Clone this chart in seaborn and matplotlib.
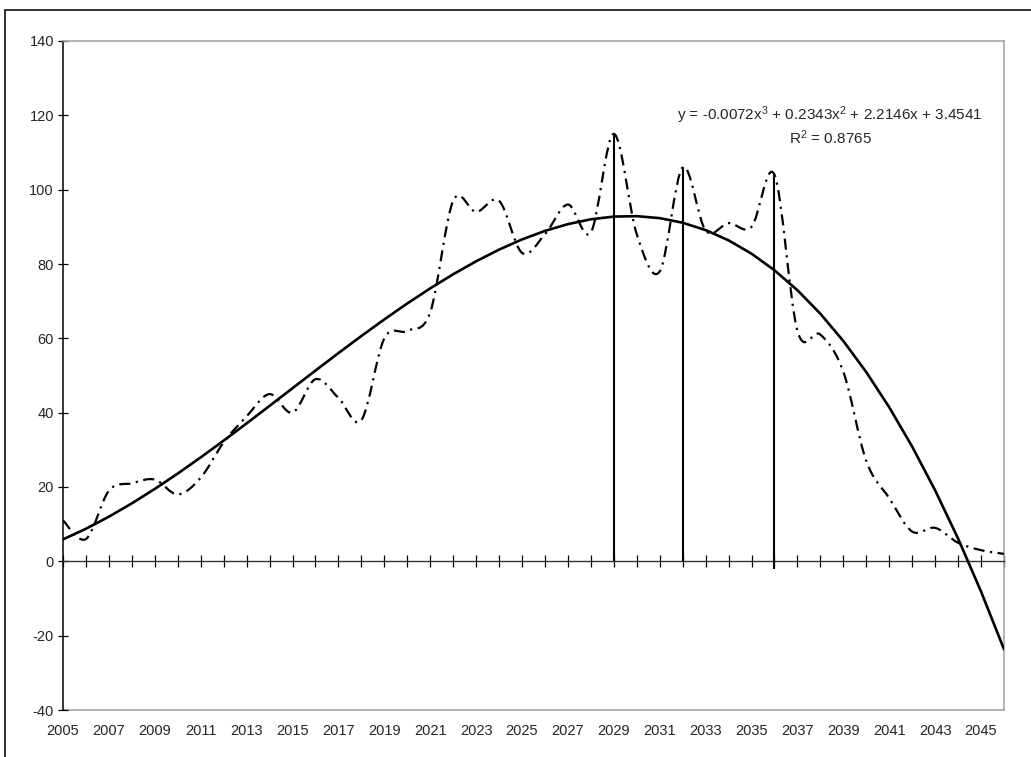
import numpy as np
import pandas as pd
import matplotlib
matplotlib.use("Agg")
import matplotlib.pyplot as plt
from matplotlib.path import Path
from matplotlib.patches import PathPatch
from matplotlib.lines import Line2D
import seaborn as sns

# data
years = list(range(2005, 2047))
values = [11, 6, 19, 21, 22, 18, 22.5, 32, 39, 45, 40, 49, 44, 38, 60, 62, 67,
          97, 94, 97, 83, 88, 96, 88.5, 115, 88, 78, 106, 89, 91, 90, 104,
          62, 61, 51, 27, 17, 8, 9, 5, 3, 2]
drop_years = [2029, 2032, 2036]
drop_tops = [115, 106, 104]
drop_bottoms = [0, 0, -2]
# polynomial trendline as printed on the chart (x = 1, 2, ... per year)
trend_coef = [-0.0072, 0.2343, 2.2146, 3.4541]
eq_text = "y = -0.0072x$^3$ + 0.2343x$^2$ + 2.2146x + 3.4541"
r2_text = "R$^2$ = 0.8765"
label_years = list(range(2005, 2046, 2))
y_ticks = list(range(-40, 141, 20))

sns.set_style("white")
plt.rcParams["font.family"] = ["Liberation Sans", "DejaVu Sans"]
plt.rcParams["mathtext.default"] = "regular"
plt.rcParams["axes.unicode_minus"] = False

W, H = 1031, 757
fig = plt.figure(figsize=(W / 100, H / 100), dpi=100)
ax = fig.add_axes([63 / W, 1 - 710 / H, (1004 - 63) / W, (710 - 41) / H])

gray = "#a6a6a6"
fs = 10.5


def smooth_path(xs, ys):
    # Excel style smoothed line: cubic bezier through each point
    xs = np.asarray(xs, float)
    ys = np.asarray(ys, float)
    n = len(xs)
    verts = [(xs[0], ys[0])]
    codes = [Path.MOVETO]
    for i in range(n - 1):
        i0 = max(i - 1, 0)
        i3 = min(i + 2, n - 1)
        c1 = (xs[i] + (xs[i + 1] - xs[i0]) / 6, ys[i] + (ys[i + 1] - ys[i0]) / 6)
        c2 = (xs[i + 1] - (xs[i3] - xs[i]) / 6, ys[i + 1] - (ys[i3] - ys[i]) / 6)
        verts += [c1, c2, (xs[i + 1], ys[i + 1])]
        codes += [Path.CURVE4] * 3
    return Path(verts, codes)


# data series, dash-dot smoothed
ax.add_patch(PathPatch(smooth_path(years, values), fill=False, edgecolor="black",
                       lw=1.6, linestyle=(0, (5, 2.5, 1, 2.5)), capstyle="butt",
                       zorder=3))

# trendline
df = pd.DataFrame({"year": years,
                   "trend": np.polyval(trend_coef, np.arange(1, len(years) + 1))})
sns.lineplot(data=df, x="year", y="trend", color="black", lw=1.9, ax=ax, zorder=4)

# drop lines
ax.vlines(drop_years, drop_bottoms, drop_tops, color="black", lw=1.5, zorder=4)

ax.set_xlim(2005, 2046)
ax.set_ylim(-40, 140)
ax.set_xlabel("")
ax.set_ylabel("")

# category axis crossing at zero with a tick every year
ax.spines["bottom"].set_position(("data", 0))
ax.spines["bottom"].set_color("#333333")
ax.spines["bottom"].set_linewidth(1.0)
ax.set_xticks(years)
ax.tick_params(axis="x", bottom=True, direction="inout", length=8, width=0.9,
               color="black", labelbottom=False)

ax.spines["left"].set_color("black")
ax.spines["left"].set_linewidth(1.1)
ax.spines["top"].set_color(gray)
ax.spines["right"].set_color(gray)
ax.spines["top"].set_linewidth(1.2)
ax.spines["right"].set_linewidth(1.2)
ax.set_yticks(y_ticks)
ax.tick_params(axis="y", left=True, direction="inout", length=7, width=0.9,
               color="black", labelsize=fs, pad=3)

# year labels along the bottom of the plot area
sec = ax.secondary_xaxis("bottom")
sec.set_xticks(label_years)
sec.set_xticklabels([str(y) for y in label_years])
sec.tick_params(bottom=True, length=0, pad=10, labelsize=fs)
sec.spines["bottom"].set_color(gray)
sec.spines["bottom"].set_linewidth(1.2)

fig.text(830 / W, 1 - 115 / H, eq_text, ha="center", va="center", fontsize=fs + 0.5)
fig.text(830 / W, 1 - 138 / H, r2_text, ha="center", va="center", fontsize=fs + 0.5)

# chart frame
fig.add_artist(Line2D([5 / W, 5 / W], [0, 1 - 10 / H], color="#222222", lw=1.3))
fig.add_artist(Line2D([5 / W, 1], [1 - 10 / H, 1 - 10 / H], color="#222222", lw=1.3))

fig.savefig("out.png", dpi=100)
